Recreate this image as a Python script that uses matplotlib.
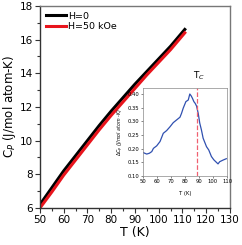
import numpy as np
import matplotlib
matplotlib.use('Agg')
import matplotlib.pyplot as plt
from matplotlib.ticker import MultipleLocator

# main curves, Cp vs T
T_main = [50, 55, 60, 65, 70, 75, 80, 85, 90, 95, 100, 105, 111]
cp_h0 = [6.2, 7.2, 8.2, 9.1, 10.0, 10.9, 11.75, 12.55, 13.35, 14.1, 14.85, 15.6, 16.6]
cp_h50 = [6.0, 6.95, 7.95, 8.85, 9.75, 10.65, 11.5, 12.3, 13.1, 13.9, 14.65, 15.4, 16.4]

# inset: delta Cp
T_ins = [50.5, 52.8, 54.7, 56.4, 57.6, 59.9, 62.3, 64.6, 67.0, 69.4, 71.7, 74.1,
         76.5, 77.6, 78.8, 80.7, 82.4, 83.5, 84.5, 85.4, 86.4, 87.3, 88.3, 89.5,
         90.6, 91.8, 93.0, 95.4, 97.0, 98.9, 100.6, 102.0, 103.6, 104.8, 107.2, 109.5]
dcp = [0.185, 0.18, 0.183, 0.189, 0.201, 0.21, 0.226, 0.256, 0.266, 0.28, 0.295, 0.305,
       0.315, 0.329, 0.348, 0.372, 0.378, 0.40, 0.393, 0.384, 0.372, 0.366, 0.356, 0.329,
       0.293, 0.268, 0.238, 0.207, 0.195, 0.171, 0.159, 0.152, 0.144, 0.152, 0.158, 0.163]
Tc = 88.5

fig = plt.figure(figsize=(2.42, 2.45), dpi=100)
ax = fig.add_axes([0.165, 0.151, 0.785, 0.825])
ax.plot(T_main, cp_h0, color='black', lw=2.2, label='H=0')
ax.plot(T_main, cp_h50, color='#e8141c', lw=2.2, label='H=50 kOe')
ax.set_xlim(50, 130)
ax.set_ylim(6, 18)
ax.xaxis.set_major_locator(MultipleLocator(10))
ax.xaxis.set_minor_locator(MultipleLocator(5))
ax.yaxis.set_major_locator(MultipleLocator(2))
ax.yaxis.set_minor_locator(MultipleLocator(1))
ax.tick_params(which='major', labelsize=7.5, length=3.5, width=0.8, pad=1.5, color='#333333')
ax.tick_params(which='minor', length=2, width=0.8, color='#333333')
for s in ax.spines.values():
    s.set_color('#777777')
    s.set_linewidth(1.0)
ax.spines['left'].set_color('#333333')
ax.spines['bottom'].set_color('#333333')
ax.set_xlabel('T (K)', fontsize=9, labelpad=0.5)
ax.set_ylabel(r'C$_P$ (J/mol atom-K)', fontsize=8.5, labelpad=1)
ax.legend(loc='upper left', fontsize=6.8, frameon=False, handlelength=2.2,
          handletextpad=0.2, labelspacing=0.2, borderaxespad=0.2)

# inset
ins = fig.add_axes([0.59, 0.282, 0.348, 0.36])
ins.plot(T_ins, dcp, color='#3050b0', lw=0.9)
ins.axvline(Tc, color='#f06070', lw=0.9, ls='--')
ins.set_xlim(50, 110)
ins.set_ylim(0.10, 0.423)
ins.xaxis.set_major_locator(MultipleLocator(10))
ins.yaxis.set_major_locator(MultipleLocator(0.05))
ins.yaxis.set_major_formatter(matplotlib.ticker.FormatStrFormatter('%.2f'))
ins.tick_params(labelsize=3.8, length=1.5, width=0.5, pad=1, color='#555555')
for s in ins.spines.values():
    s.set_color('#888888')
    s.set_linewidth(0.5)
ins.set_xlabel('T (K)', fontsize=3.8, labelpad=5)
ins.set_ylabel(r'$\Delta$C$_p$ (J/mol atom -K)', fontsize=3.4, labelpad=1, style='italic')
ins.text(Tc + 1.5, 1.07, r'T$_C$', transform=ins.get_xaxis_transform(),
         fontsize=6.5, ha='center', va='bottom')

fig.savefig('out.png', dpi=100)
